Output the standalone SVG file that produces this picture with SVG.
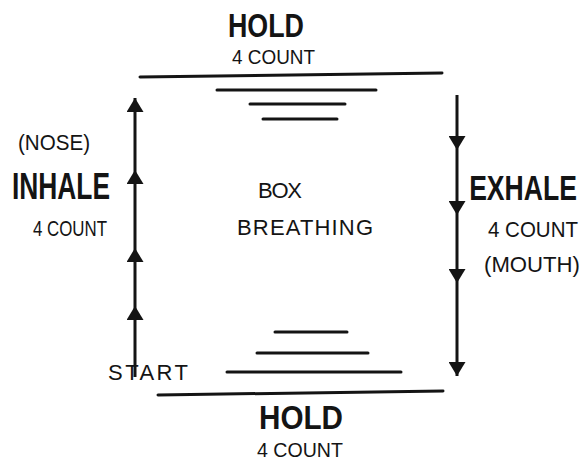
<svg xmlns="http://www.w3.org/2000/svg" width="587" height="463" viewBox="0 0 587 463">
<style>
.t{font-family:"Liberation Sans Narrow","Liberation Sans",Arial,sans-serif;fill:#141414}
.h{font-weight:bold;font-size:34px}
.s{font-size:22px}
.ss{font-size:21px}
.e{text-anchor:end}
.ln{stroke:#141414;stroke-width:3;stroke-linecap:round;fill:none}
.ar{stroke:#141414;stroke-width:3;fill:none}
</style>
<defs>
<marker id="tri" viewBox="0 0 14 17" refX="14" refY="8.5" markerWidth="14" markerHeight="17" markerUnits="userSpaceOnUse" orient="auto">
<path d="M0,0 L14,8.5 L0,17 z" fill="#141414"/>
</marker>
</defs>
<rect width="587" height="463" fill="#fff"/>
<g id="hold-top">
<text class="t h" x="228" y="37" textLength="76" lengthAdjust="spacingAndGlyphs">HOLD</text>
<text class="t ss" x="232" y="64" textLength="83" lengthAdjust="spacingAndGlyphs">4 COUNT</text>
<path class="ln" d="M140,77 L442,73"/>
<path class="ln" d="M217,90 L376,90"/>
<path class="ln" d="M250,104 L345,104"/>
<path class="ln" d="M263,119 L337,119"/>
</g>
<g id="inhale">
<text class="t s" x="18" y="150" textLength="72" lengthAdjust="spacingAndGlyphs">(NOSE)</text>
<text class="t h" x="12" y="199" textLength="98" lengthAdjust="spacingAndGlyphs" style="font-size:36px">INHALE</text>
<text class="t s" x="33" y="236" textLength="74" lengthAdjust="spacingAndGlyphs">4 COUNT</text>
</g>
<g id="start">
<text class="t s" x="108" y="380" textLength="80" lengthAdjust="spacing">START</text>
</g>
<g id="exhale">
<text class="t h e" x="0" y="0" transform="translate(577,200) scale(0.76,1)" style="font-size:35px">EXHALE</text>
<text class="t s e" x="578" y="237" textLength="90" lengthAdjust="spacingAndGlyphs">4 COUNT</text>
<text class="t s e" x="580" y="272" textLength="96" lengthAdjust="spacingAndGlyphs">(MOUTH)</text>
</g>
<g id="center">
<text class="t s" x="258" y="198" textLength="44" lengthAdjust="spacing">BOX</text>
<text class="t s" x="237" y="235" textLength="136" lengthAdjust="spacing">BREATHING</text>
</g>
<g id="hold-bottom">
<path class="ln" d="M275,332 L347,332"/>
<path class="ln" d="M257,353 L368,353"/>
<path class="ln" d="M227,372 L401,372"/>
<path class="ln" d="M158,395 L443,391"/>
<text class="t h" x="259" y="429" textLength="84" lengthAdjust="spacingAndGlyphs">HOLD</text>
<text class="t ss" x="257" y="457" textLength="86" lengthAdjust="spacingAndGlyphs">4 COUNT</text>
</g>
<g id="connectors">
<path class="ar" d="M135,377 L135,306 L135,248 L135,170 L135,98" marker-mid="url(#tri)" marker-end="url(#tri)"/>
<path class="ar" d="M457,95 L457,150 L457,215 L457,283 L457,376" marker-mid="url(#tri)" marker-end="url(#tri)"/>
</g>
</svg>
